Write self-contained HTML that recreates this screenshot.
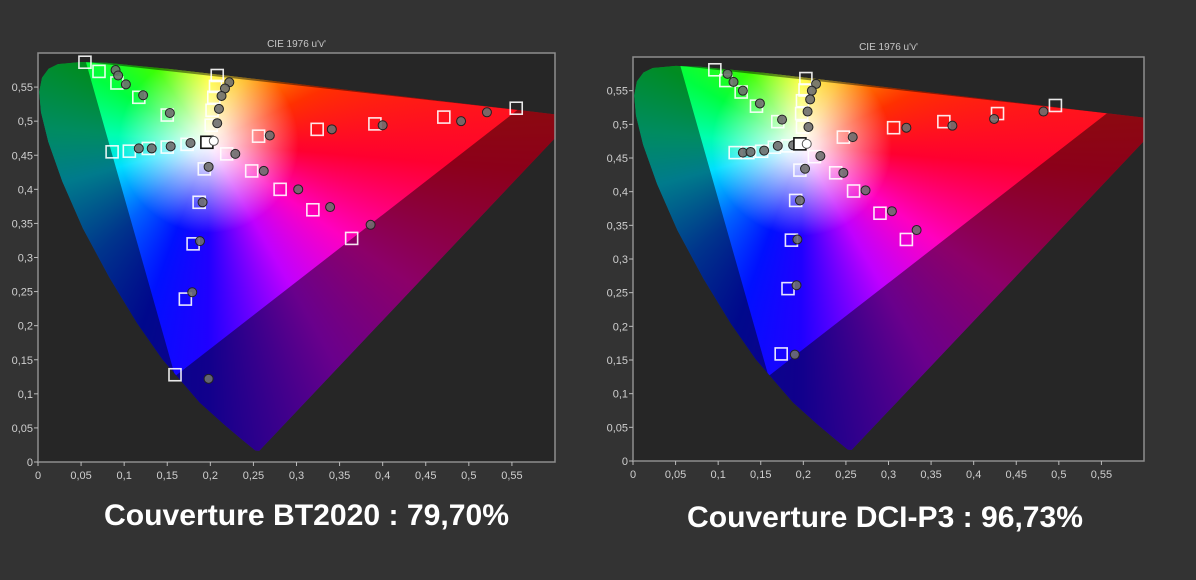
<!DOCTYPE html>
<html><head><meta charset="utf-8">
<style>
html,body{margin:0;padding:0;background:#333333;width:1196px;height:580px;overflow:hidden;font-family:"Liberation Sans",sans-serif;}
.gamut{position:absolute;width:1196px;height:580px;}
svg{position:absolute;left:0;top:0;}
</style></head>
<body>
<div id="root"></div>
<script>
// ---- data ----
const xTicks=[0,0.05,0.1,0.15,0.2,0.25,0.3,0.35,0.4,0.45,0.5,0.55];
const yTicks=[0,0.05,0.1,0.15,0.2,0.25,0.3,0.35,0.4,0.45,0.5,0.55];
const xTickLabels=["0","0,05","0,1","0,15","0,2","0,25","0,3","0,35","0,4","0,45","0,5","0,55"];
const yTickLabels=["0","0,05","0,1","0,15","0,2","0,25","0,3","0,35","0,4","0,45","0,5","0,55"];
const locusU=[0.2568,0.2522,0.2347,0.216,0.1877,0.1441,0.1147,0.0828,0.0521,0.0282,0.0119,0.0035,0.0014,0.0046,0.0123,0.0231,0.0501,0.0792,0.1531,0.2623,0.4035,0.5202,0.6234];
const locusV=[0.0165,0.0169,0.035,0.055,0.0871,0.151,0.2043,0.2708,0.3427,0.4117,0.4699,0.513,0.543,0.5638,0.577,0.5837,0.5868,0.5856,0.5766,0.5605,0.5393,0.5219,0.5065];
const bt2020U=[0.1591,0.0556,0.5566];
const bt2020V=[0.1260,0.5868,0.5165];

const leftTargetU=[0.0545,0.0708,0.0916,0.117,0.150,0.208,0.206,0.204,0.202,0.201,0.086,0.106,0.128,0.150,0.173,0.219,0.193,0.187,0.180,0.171,0.159,0.256,0.248,0.281,0.319,0.364,0.324,0.391,0.471,0.555];
const leftTargetV=[0.5865,0.573,0.556,0.535,0.509,0.567,0.551,0.535,0.516,0.494,0.455,0.456,0.460,0.462,0.466,0.452,0.430,0.381,0.320,0.239,0.128,0.478,0.427,0.400,0.370,0.328,0.488,0.496,0.506,0.519];
const leftMeasU=[0.090,0.093,0.102,0.122,0.153,0.222,0.217,0.213,0.210,0.208,0.117,0.132,0.154,0.177,0.229,0.198,0.191,0.188,0.179,0.198,0.269,0.262,0.302,0.339,0.386,0.341,0.400,0.491,0.521];
const leftMeasV=[0.575,0.567,0.554,0.538,0.512,0.557,0.548,0.537,0.518,0.497,0.460,0.460,0.463,0.468,0.452,0.433,0.381,0.324,0.249,0.122,0.479,0.427,0.400,0.374,0.348,0.488,0.494,0.500,0.513];
const leftWhiteTarget=[0.196,0.469];
const leftWhiteMeas=[0.204,0.471];

const rightTargetU=[0.0961,0.109,0.127,0.145,0.170,0.203,0.202,0.199,0.198,0.199,0.120,0.135,0.151,0.166,0.182,0.213,0.196,0.191,0.186,0.182,0.174,0.247,0.238,0.259,0.290,0.321,0.306,0.365,0.428,0.496];
const rightTargetV=[0.581,0.565,0.548,0.527,0.504,0.568,0.551,0.535,0.516,0.496,0.458,0.458,0.460,0.466,0.468,0.452,0.432,0.387,0.328,0.256,0.159,0.481,0.428,0.401,0.368,0.329,0.495,0.504,0.516,0.528];
const rightMeasU=[0.111,0.118,0.129,0.149,0.175,0.215,0.210,0.208,0.205,0.206,0.129,0.138,0.154,0.170,0.188,0.220,0.202,0.196,0.193,0.192,0.190,0.258,0.247,0.273,0.304,0.333,0.321,0.375,0.424,0.482];
const rightMeasV=[0.575,0.563,0.550,0.531,0.507,0.560,0.550,0.537,0.519,0.496,0.458,0.459,0.461,0.468,0.469,0.453,0.434,0.387,0.329,0.261,0.158,0.481,0.428,0.402,0.371,0.343,0.495,0.498,0.508,0.519];
const rightWhiteTarget=[0.196,0.471];
const rightWhiteMeas=[0.204,0.471];

const NS="http://www.w3.org/2000/svg";
const root=document.getElementById('root');

function drawChart(cfg){
  const {name,L,T,R,B,umax,vmax,tU,tV,mU,mV,wT,wM,caption,capX,capY,capW,titleY}=cfg;
  const sx=u=>L+u/umax*(R-L);
  const sy=v=>B-v/vmax*(B-T);
  let lp='';
  for(let i=0;i<locusU.length;i++){lp+=(i?'L':'M')+sx(locusU[i]).toFixed(1)+' '+sy(locusV[i]).toFixed(1)+' ';}
  lp+='Z';
  const wrap=document.createElement('div');
  
  
  wrap.style.cssText=`position:absolute;left:${L}px;top:${T}px;width:${R-L}px;height:${B-T}px;background:#262626;`;
  root.appendChild(wrap);
  const clipHolder=document.createElement('div');
  clipHolder.style.cssText=`position:absolute;left:${L}px;top:${T}px;width:${R-L}px;height:${B-T}px;overflow:hidden;`;
  const g=document.createElement('div');
  g.className='gamut';
  g.style.left=(-L)+'px';g.style.top=(-T)+'px';
  
  
  const wx=sx(0.198),wy=sy(0.468);
  g.style.clipPath=`path('${lp}')`;
  g.style.background=`radial-gradient(circle at ${wx}px ${wy}px, rgba(255,255,255,1) 0px, rgba(255,255,255,0.85) 18px, rgba(255,255,255,0) 90px), conic-gradient(from 0deg at ${wx}px ${wy}px, #ffff00 0deg, #ffb000 30deg, #ff3000 65deg, #ff0030 95deg, #ff00c0 125deg, #c000ff 150deg, #2000ff 180deg, #0010ff 200deg, #0060ff 225deg, #00e0ff 255deg, #00ffb0 275deg, #00ff40 300deg, #40ff00 325deg, #b0ff00 345deg, #ffff00 360deg)`;
  clipHolder.appendChild(g);
  root.appendChild(clipHolder);

  const svg=document.createElementNS(NS,'svg');
  svg.setAttribute('width','1196');svg.setAttribute('height','580');
  
  
  root.appendChild(svg);
  let tp='M'+sx(bt2020U[0])+' '+sy(bt2020V[0])+' L'+sx(bt2020U[1])+' '+sy(bt2020V[1])+' L'+sx(bt2020U[2])+' '+sy(bt2020V[2])+' Z';
  const cp=document.createElementNS(NS,'clipPath');cp.setAttribute('id',name+'-clip');
  const cpp=document.createElementNS(NS,'path');cpp.setAttribute('d',lp);cp.appendChild(cpp);svg.appendChild(cp);
  const cp2=document.createElementNS(NS,'clipPath');cp2.setAttribute('id',name+'-plotclip');
  const cr=document.createElementNS(NS,'rect');cr.setAttribute('x',L);cr.setAttribute('y',T);cr.setAttribute('width',R-L);cr.setAttribute('height',B-T);cp2.appendChild(cr);svg.appendChild(cp2);
  const outerG=document.createElementNS(NS,'g');outerG.setAttribute('clip-path',`url(#${name}-plotclip)`);svg.appendChild(outerG);
  const gg=document.createElementNS(NS,'g');gg.setAttribute('clip-path',`url(#${name}-clip)`);outerG.appendChild(gg);
  const dark=document.createElementNS(NS,'path');
  dark.setAttribute('d',`M0 0 H1196 V580 H0 Z `+tp);
  dark.setAttribute('fill-rule','evenodd');dark.setAttribute('fill','rgba(0,0,0,0.45)');
  
  
  gg.appendChild(dark);
  const frame=document.createElementNS(NS,'rect');
  frame.setAttribute('x',L);frame.setAttribute('y',T);frame.setAttribute('width',R-L);frame.setAttribute('height',B-T);
  frame.setAttribute('fill','none');frame.setAttribute('stroke','#8e8e8e');frame.setAttribute('stroke-width','1.5');
  
  
  svg.appendChild(frame);
  const tt=document.createElementNS(NS,'text');
  tt.setAttribute('x',(L+R)/2);tt.setAttribute('y',titleY);tt.setAttribute('text-anchor','middle');
  tt.setAttribute('fill','#c8c8c8');tt.setAttribute('font-size','10');tt.setAttribute('font-family','Liberation Sans, sans-serif');
  tt.textContent="CIE 1976 u'v'";
  
  
  svg.appendChild(tt);
  xTicks.forEach((t,i)=>{
    const x=sx(t);
    const l=document.createElementNS(NS,'line');
    l.setAttribute('x1',x);l.setAttribute('x2',x);l.setAttribute('y1',B);l.setAttribute('y2',B+4);l.setAttribute('stroke','#bbb');
    svg.appendChild(l);
    const tx=document.createElementNS(NS,'text');
    tx.setAttribute('x',x);tx.setAttribute('y',B+17);tx.setAttribute('text-anchor','middle');tx.setAttribute('fill','#cfcfcf');tx.setAttribute('font-size','11');tx.setAttribute('font-family','Liberation Sans, sans-serif');
    tx.textContent=xTickLabels[i];
    
    
    svg.appendChild(tx);
  });
  yTicks.forEach((t,i)=>{
    const y=sy(t);
    const l=document.createElementNS(NS,'line');
    l.setAttribute('x1',L-4);l.setAttribute('x2',L);l.setAttribute('y1',y);l.setAttribute('y2',y);l.setAttribute('stroke','#bbb');
    svg.appendChild(l);
    const tx=document.createElementNS(NS,'text');
    tx.setAttribute('x',L-5);tx.setAttribute('y',y+4);tx.setAttribute('text-anchor','end');tx.setAttribute('fill','#cfcfcf');tx.setAttribute('font-size','11');tx.setAttribute('font-family','Liberation Sans, sans-serif');
    tx.textContent=yTickLabels[i];
    
    
    svg.appendChild(tx);
  });
  const pg=document.createElementNS(NS,'g');pg.setAttribute('clip-path',`url(#${name}-plotclip)`);svg.appendChild(pg);
  for(let i=0;i<tU.length;i++){
    const r=document.createElementNS(NS,'rect');
    r.setAttribute('x',sx(tU[i])-6);r.setAttribute('y',sy(tV[i])-6);r.setAttribute('width',12);r.setAttribute('height',12);
    r.setAttribute('fill','none');r.setAttribute('stroke','rgba(255,255,255,0.9)');r.setAttribute('stroke-width','1.6');
    
    
    pg.appendChild(r);
  }
  for(let i=0;i<mU.length;i++){
    const c=document.createElementNS(NS,'circle');
    c.setAttribute('cx',sx(mU[i]));c.setAttribute('cy',sy(mV[i]));c.setAttribute('r',4.5);
    c.setAttribute('fill','rgba(110,110,110,0.9)');c.setAttribute('stroke','#222');c.setAttribute('stroke-width','1');
    
    
    pg.appendChild(c);
  }
  const ws=document.createElementNS(NS,'rect');
  ws.setAttribute('x',sx(wT[0])-6);ws.setAttribute('y',sy(wT[1])-6);ws.setAttribute('width',12);ws.setAttribute('height',12);
  ws.setAttribute('fill','#fff');ws.setAttribute('stroke','#111');ws.setAttribute('stroke-width','1.6');
  
  
  pg.appendChild(ws);
  const wc=document.createElementNS(NS,'circle');
  wc.setAttribute('cx',sx(wM[0]));wc.setAttribute('cy',sy(wM[1]));wc.setAttribute('r',4.5);
  wc.setAttribute('fill','#fff');wc.setAttribute('stroke','#555');
  
  
  pg.appendChild(wc);
  const ct=document.createElementNS(NS,'text');
  ct.setAttribute('x',capX);ct.setAttribute('y',capY);ct.setAttribute('fill','#ffffff');ct.setAttribute('font-size','30');ct.setAttribute('font-weight','bold');
  ct.setAttribute('font-family','Liberation Sans, sans-serif');
  ct.setAttribute('textLength',capW);ct.setAttribute('lengthAdjust','spacingAndGlyphs');
  ct.textContent=caption;
  
  
  svg.appendChild(ct);
}

drawChart({name:'bt2020',L:38,T:53,R:555,B:462,umax:0.6,vmax:0.6,tU:leftTargetU,tV:leftTargetV,mU:leftMeasU,mV:leftMeasV,wT:leftWhiteTarget,wM:leftWhiteMeas,caption:'Couverture BT2020 : 79,70%',capX:104,capY:525,capW:405,titleY:47});
drawChart({name:'dcip3',L:633,T:57,R:1144,B:461,umax:0.6,vmax:0.6,tU:rightTargetU,tV:rightTargetV,mU:rightMeasU,mV:rightMeasV,wT:rightWhiteTarget,wM:rightWhiteMeas,caption:'Couverture DCI-P3 : 96,73%',capX:687,capY:527,capW:396,titleY:50});
</script>
</body></html>
